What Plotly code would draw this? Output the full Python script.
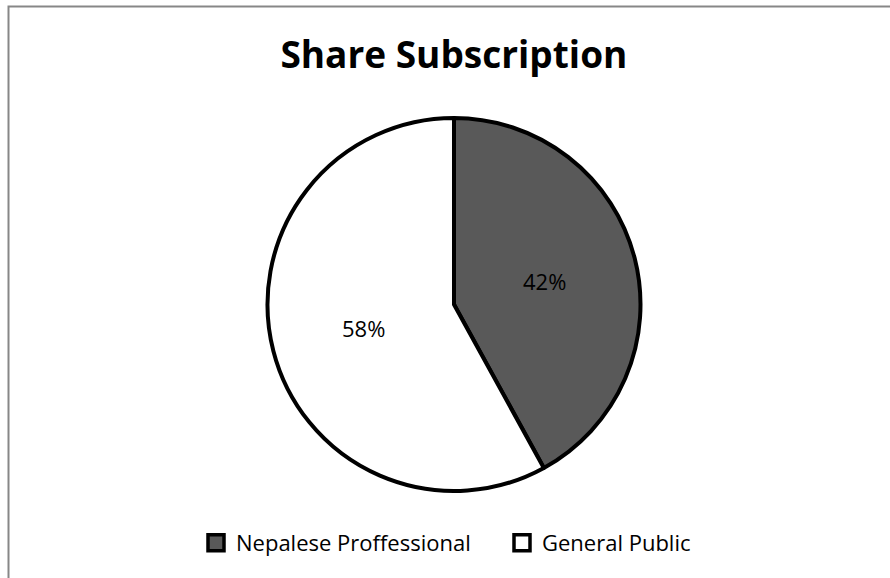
import math
import plotly.graph_objects as go

labels = ["Nepalese Proffessional", "General Public"]
values = [42, 58]
colors = ["#595959", "#FFFFFF"]
title_text = "Share Subscription"

W, H = 890, 578
# pie bounding box (px)
px0, px1 = 267, 641
py0, py1 = 118, 491

fig = go.Figure()
fig.add_trace(go.Pie(
    labels=labels, values=values, sort=False, direction="clockwise", rotation=0,
    marker=dict(colors=colors, line=dict(color="#000000", width=4)),
    textinfo="none", hoverinfo="label+percent", showlegend=False,
    domain=dict(x=[px0 / W, px1 / W], y=[1 - py1 / H, 1 - py0 / H]),
))

# legend entries (square swatches with black outline)
for lab, col in zip(labels, colors):
    fig.add_trace(go.Scatter(
        x=[None], y=[None], mode="markers", name=lab, showlegend=True,
        marker=dict(symbol="square", size=16, color=col, line=dict(color="#000000", width=3.5)),
    ))

# data labels placed at mid-angle of each slice
cx = (px0 + px1) / 2 / W
cy = 1 - (py0 + py1) / 2 / H
r = (px1 - px0) / 2
total = sum(values)
start = 0.0
for v in values:
    frac = v / total
    mid = (start + frac / 2) * 2 * math.pi
    dx = 0.5 * r * math.sin(mid)
    dy = 0.5 * r * math.cos(mid)
    fig.add_annotation(x=cx + dx / W, y=cy + dy / H, xref="paper", yref="paper",
                       text=f"{round(frac * 100)}%", showarrow=False,
                       font=dict(family="Open Sans", size=22, color="#000000"))
    start += frac

fig.add_shape(type="rect", xref="paper", yref="paper",
              x0=8.5 / W, x1=1.2, y0=-0.2, y1=1 - 6.5 / H,
              line=dict(color="#878787", width=2), layer="below")

fig.update_layout(
    width=W, height=H,
    margin=dict(l=0, r=0, t=0, b=0),
    paper_bgcolor="#FFFFFF", plot_bgcolor="#FFFFFF",
    xaxis=dict(visible=False), yaxis=dict(visible=False),
    title=dict(text=f"<b>{title_text}</b>", x=0.51, xanchor="center",
               y=1 - 55 / H, yanchor="middle",
               font=dict(family="Open Sans", size=37, color="#000000")),
    showlegend=True,
    legend=dict(orientation="h", x=(238 - 42) / W, xanchor="left", y=1 - 543 / H, yanchor="middle",
                font=dict(family="Open Sans", size=22, color="#000000"),
                entrywidth=261, traceorder="normal", bgcolor="rgba(0,0,0,0)"),
)

fig.write_html("out.html")
